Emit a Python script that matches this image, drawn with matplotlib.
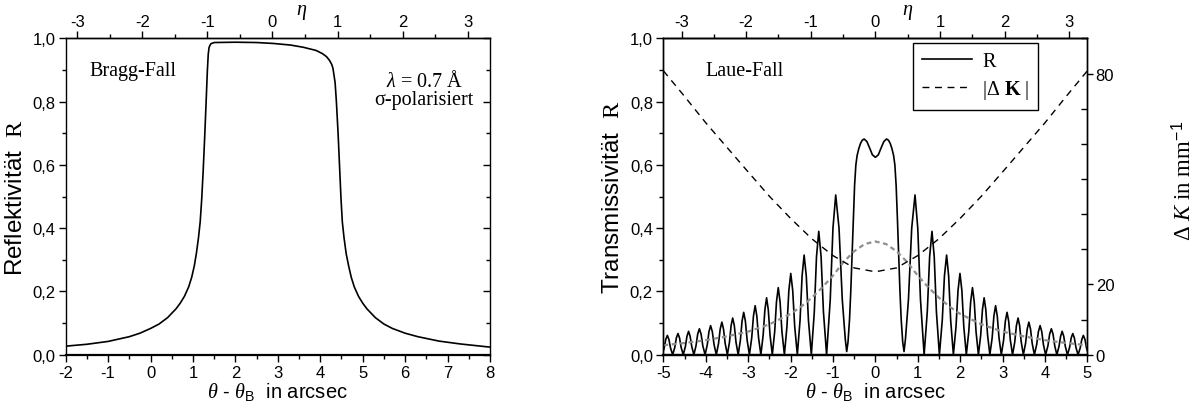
import numpy as np
import matplotlib
matplotlib.use("Agg")
import matplotlib.pyplot as plt
from matplotlib.ticker import FuncFormatter, MultipleLocator, FixedLocator

plt.rcParams["font.family"] = ["Liberation Sans", "DejaVu Sans"]
plt.rcParams["axes.unicode_minus"] = False
plt.rcParams["mathtext.fontset"] = "custom"
plt.rcParams["mathtext.rm"] = "Liberation Serif"
plt.rcParams["mathtext.it"] = "Liberation Serif:italic"
plt.rcParams["mathtext.bf"] = "Liberation Serif:bold"
plt.rcParams["mathtext.sf"] = "Liberation Sans"

# --- Bragg case (reflectivity) ---
bragg_theta = [-2.0, -1.5, -1.0, -0.5, -0.25, 0.0, 0.2, 0.4, 0.6, 0.7, 0.8, 0.9,
               0.97, 1.03, 1.08, 1.13, 1.17, 1.205, 1.24, 1.28, 1.31, 1.34, 1.36,
               1.38, 1.42, 1.5, 2.0, 2.5, 2.9, 3.3, 3.6, 3.9, 4.05, 4.15, 4.22,
               4.27, 4.30, 4.35, 4.38, 4.42, 4.46, 4.49, 4.52, 4.56, 4.61, 4.67,
               4.73, 4.80, 4.90, 5.0, 5.1, 5.3, 5.5, 5.7, 6.0, 6.3, 6.8, 7.3, 8.0]
bragg_R = [0.027, 0.033, 0.042, 0.057, 0.068, 0.083, 0.097, 0.117, 0.145, 0.163,
           0.185, 0.215, 0.245, 0.28, 0.32, 0.37, 0.42, 0.49, 0.58, 0.70, 0.80,
           0.90, 0.95, 0.972, 0.983, 0.987, 0.988, 0.987, 0.984, 0.979, 0.972,
           0.962, 0.952, 0.942, 0.93, 0.918, 0.905, 0.86, 0.80, 0.70, 0.58, 0.49,
           0.42, 0.37, 0.32, 0.28, 0.245, 0.215, 0.185, 0.163, 0.145, 0.117,
           0.097, 0.083, 0.068, 0.057, 0.043, 0.034, 0.024]

# --- Laue case (transmissivity), theta >= 0 half; the curve is symmetric ---
laue_theta = [0.0, 0.07, 0.13, 0.2, 0.265, 0.31, 0.35, 0.39, 0.43, 0.46, 0.49,
              0.52, 0.55, 0.58, 0.61, 0.645, 0.676,
              0.71, 0.78, 0.857, 0.935, 1.0, 1.064, 1.15,
              1.224, 1.28, 1.335, 1.388, 1.44, 1.51,
              1.578, 1.629, 1.68, 1.728, 1.776, 1.84,
              1.902, 1.949, 1.995, 2.04, 2.085, 2.145,
              2.203, 2.247, 2.29, 2.332, 2.374, 2.43,
              2.484, 2.525, 2.565, 2.605, 2.646, 2.70,
              2.754, 2.795, 2.835, 2.875, 2.916, 2.97,
              3.024, 3.065, 3.105, 3.144, 3.183, 3.235,
              3.287, 3.326, 3.365, 3.402, 3.44, 3.49,
              3.542, 3.581, 3.62, 3.659, 3.698, 3.75,
              3.804, 3.845, 3.885, 3.924, 3.963, 4.015,
              4.069, 4.11, 4.15, 4.19, 4.23, 4.28,
              4.33, 4.368, 4.405, 4.443, 4.48, 4.53,
              4.58, 4.618, 4.655, 4.693, 4.73, 4.78,
              4.83, 4.868, 4.905, 4.943, 4.98, 5.0]
laue_R = [0.624, 0.632, 0.652, 0.674, 0.682, 0.678, 0.668, 0.652, 0.63, 0.60, 0.535,
          0.43, 0.315, 0.20, 0.11, 0.04, 0.01,
          0.05, 0.174, 0.40, 0.505, 0.40, 0.174, 0.0,
          0.135, 0.31, 0.39, 0.31, 0.135, 0.0,
          0.109, 0.249, 0.315, 0.249, 0.109, 0.0,
          0.089, 0.203, 0.257, 0.203, 0.089, 0.0,
          0.073, 0.167, 0.212, 0.167, 0.073, 0.0,
          0.062, 0.142, 0.18, 0.142, 0.062, 0.0,
          0.053, 0.122, 0.155, 0.122, 0.053, 0.0,
          0.046, 0.106, 0.134, 0.106, 0.046, 0.0,
          0.04, 0.092, 0.116, 0.092, 0.04, 0.0,
          0.036, 0.081, 0.103, 0.081, 0.036, 0.0,
          0.032, 0.073, 0.092, 0.073, 0.032, 0.0,
          0.028, 0.065, 0.082, 0.065, 0.028, 0.0,
          0.026, 0.058, 0.074, 0.058, 0.026, 0.0,
          0.023, 0.053, 0.067, 0.053, 0.023, 0.0,
          0.021, 0.048, 0.061, 0.048, 0.021, 0.012]

# grey dashed curve (mean transmissivity), theta >= 0 half
mean_theta = [0.0, 0.25, 0.5, 0.75, 1.0, 1.25, 1.5, 1.75, 2.0, 2.5, 3.0, 3.5, 4.0, 4.5, 5.0]
mean_R = [0.358, 0.350, 0.327, 0.293, 0.250, 0.213, 0.180, 0.152, 0.129, 0.096,
          0.073, 0.058, 0.046, 0.037, 0.030]

# |Delta K| in 1/mm, theta >= 0 half
dk_theta = [0.0, 0.5, 1.0, 1.5, 2.0, 2.5, 3.0, 3.5, 4.0, 4.5, 5.0]
dk_val = [23.6, 24.7, 28.2, 33.0, 38.8, 45.1, 52.0, 59.0, 66.0, 73.5, 80.8]

eta_ticks = [-3, -2, -1, 0, 1, 2, 3]
bragg_xticks = [-2, -1, 0, 1, 2, 3, 4, 5, 6, 7, 8]
laue_xticks = [-5, -4, -3, -2, -1, 0, 1, 2, 3, 4, 5]
dk_ticklabels = [0, 20, 80]

# eta = (theta - offset) * scale
BRAGG_ETA = (2.873, 0.652)
LAUE_ETA = (0.0, 0.6564)


def mirror(x, y):
    x = np.asarray(x, dtype=float)
    y = np.asarray(y, dtype=float)
    return np.concatenate([-x[:0:-1], x]), np.concatenate([y[:0:-1], y])


def comma(v, _pos):
    return f"{v:.1f}".replace(".", ",")


TICK_FS = 12
XLABEL_FS = 14.5
YLABEL_FS = 17.5
TEXT_FS = 14.5
SERIF = ["Liberation Serif", "DejaVu Serif"]


def style_axes(ax, xticks):
    ax.set_ylim(0, 1.0)
    ax.set_xticks(xticks)
    ax.xaxis.set_minor_locator(MultipleLocator(0.5))
    ax.yaxis.set_major_locator(MultipleLocator(0.2))
    ax.yaxis.set_minor_locator(MultipleLocator(0.1))
    ax.yaxis.set_major_formatter(FuncFormatter(comma))
    ax.tick_params(axis="both", which="major", direction="out", length=5, width=1,
                   labelsize=TICK_FS, top=False, pad=2.5)
    ax.tick_params(axis="both", which="minor", direction="out", length=3, width=1, top=False)
    for s in ax.spines.values():
        s.set_linewidth(1.0)
    ax.spines["bottom"].set_linewidth(1.6)
    ax.set_xlabel(r"$\theta$ - $\theta_{\mathsf{B}}$  in arcsec", fontsize=XLABEL_FS, labelpad=0)


def add_eta_axis(ax, offset, scale):
    sec = ax.secondary_xaxis(
        "top",
        functions=(lambda t: (t - offset) * scale, lambda e: e / scale + offset),
    )
    sec.set_xticks(eta_ticks)
    sec.xaxis.set_minor_locator(MultipleLocator(0.5))
    sec.tick_params(which="major", direction="out", length=5, width=1, labelsize=TICK_FS, pad=2)
    sec.tick_params(which="minor", direction="out", length=3, width=1)
    sec.spines["top"].set_linewidth(1.0)
    return sec


fig = plt.figure(figsize=(12.03, 4.14), dpi=100)
ax1 = fig.add_axes([0.0546, 0.1408, 0.3527, 0.764])
ax2 = fig.add_axes([0.5514, 0.1408, 0.3525, 0.764])

# left: Bragg
ax1.plot(bragg_theta, bragg_R, color="black", lw=1.2)
ax1.set_xlim(-2, 8)
style_axes(ax1, bragg_xticks)
ax1.tick_params(axis="y", which="both", right=True, labelright=False)
for t in ax1.yaxis.get_ticklines(minor=False)[1::2] + ax1.yaxis.get_ticklines(minor=True)[1::2]:
    t.set_marker(0)  # right side ticks point inwards
ax1.set_ylabel(r"Reflektivität  $\mathrm{R}$", fontsize=YLABEL_FS, labelpad=4)
add_eta_axis(ax1, *BRAGG_ETA)
ax1.text(0.556, 1.085, r"$\eta$", transform=ax1.transAxes, fontsize=TEXT_FS,
         ha="center", va="center")
ax1.text(0.057, 0.90, "Bragg-Fall", transform=ax1.transAxes, fontsize=TEXT_FS,
         family=SERIF, va="center")
ax1.text(0.845, 0.838, "$\\lambda$ = 0.7 Å\nσ-polarisiert", transform=ax1.transAxes,
         fontsize=TEXT_FS, family=SERIF, va="center", ha="center",
         multialignment="center", linespacing=0.95)

# right: Laue
lx, ly = mirror(laue_theta, laue_R)
mx, my = mirror(mean_theta, mean_R)
kx, ky = mirror(dk_theta, dk_val)
line_r, = ax2.plot(lx, ly, color="black", lw=1.2, label="R")
ax2.plot(mx, my, color="#8f8f8f", lw=1.6, ls=(0, (2.2, 1.6)))
ax2.set_xlim(-5, 5)
style_axes(ax2, laue_xticks)
ax2.set_ylabel(r"Transmissivität  $\mathrm{R}$", fontsize=YLABEL_FS, labelpad=4)
add_eta_axis(ax2, *LAUE_ETA)
ax2.text(0.577, 1.085, r"$\eta$", transform=ax2.transAxes, fontsize=TEXT_FS,
         ha="center", va="center")
ax2.text(0.10, 0.90, "Laue-Fall", transform=ax2.transAxes, fontsize=TEXT_FS,
         family=SERIF, va="center", ha="left")

axk = ax2.twinx()
line_k, = axk.plot(kx, ky, color="black", lw=1.0, ls=(0, (5, 4)), label=r"|Δ $\mathbf{K}$ |")
axk.set_ylim(0, 90)
axk.yaxis.set_major_locator(FixedLocator(dk_ticklabels))
axk.yaxis.set_minor_locator(MultipleLocator(10))
axk.tick_params(axis="y", which="major", direction="out", length=4, width=1,
                labelsize=TICK_FS, pad=2)
axk.tick_params(axis="y", which="minor", direction="in", length=4, width=1)
for s in axk.spines.values():
    s.set_linewidth(1.0)
axk.spines["bottom"].set_linewidth(1.6)
axk.set_ylabel(r"Δ $K$ in mm$^{\mathsf{-1}}$", fontsize=16.5, family=SERIF)
axk.yaxis.set_label_coords(1.2, 0.552)

leg = axk.legend(handles=[line_r, line_k], loc="upper left", bbox_to_anchor=(0.588, 0.985),
                 prop={"family": SERIF, "size": TEXT_FS}, frameon=True, fancybox=False,
                 edgecolor="black", framealpha=1, handlelength=2.5, borderpad=0.45,
                 labelspacing=0.35, handletextpad=0.5, borderaxespad=0)
leg.get_frame().set_linewidth(1.0)

fig.savefig("out.png", dpi=100)
